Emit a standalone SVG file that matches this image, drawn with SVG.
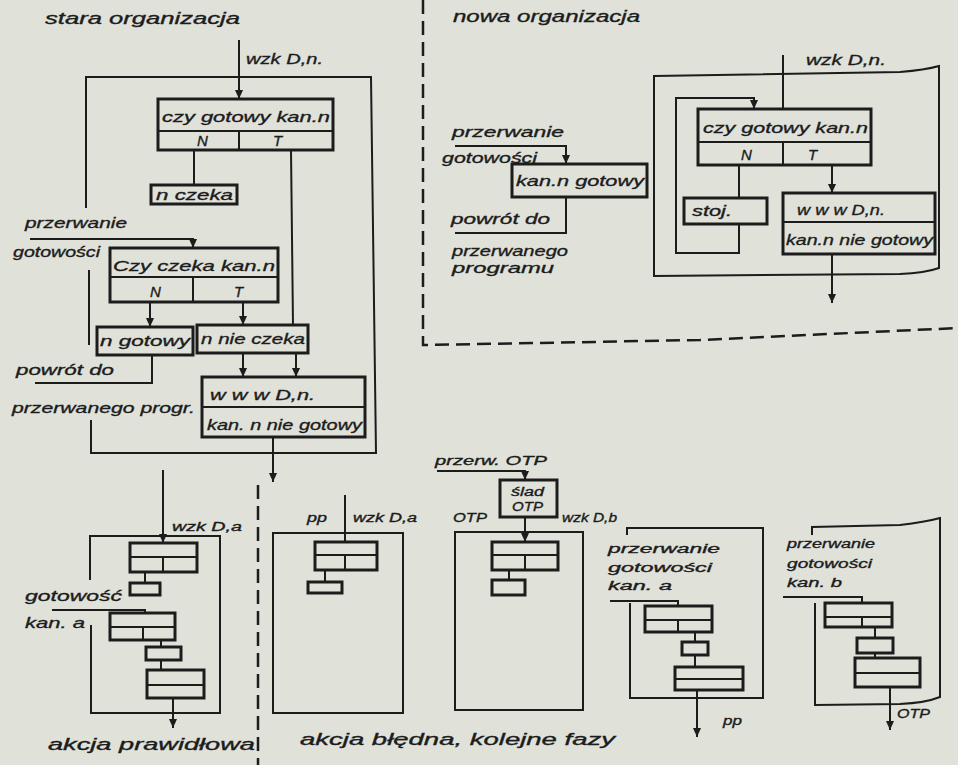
<svg xmlns="http://www.w3.org/2000/svg" width="958" height="765" viewBox="0 0 958 765">
<defs>
<style>
.bg{fill:#e0e2da}
.ln{stroke:#1c1c1c;stroke-width:2;fill:none;stroke-linejoin:miter}
.bx{stroke:#1c1c1c;stroke-width:3;fill:none}
.dv{stroke:#1c1c1c;stroke-width:2;fill:none}
.ds{stroke:#1c1c1c;stroke-width:2.5;fill:none;stroke-dasharray:14 7}
.t{font-family:"Liberation Sans",Arial,sans-serif;font-style:italic;font-size:15px;fill:#1c1c1c;stroke:#1c1c1c;stroke-width:0.35}
.h{font-size:16px}
.s{font-size:13px}
</style>
<marker id="ah" markerWidth="9" markerHeight="8" refX="9" refY="4" orient="auto" markerUnits="userSpaceOnUse">
<path d="M0,0 L9,4 L0,8 z" fill="#1c1c1c"/>
</marker>
</defs>
<rect class="bg" x="0" y="0" width="958" height="765"/>

<g id="headers">
<text class="t h" x="45" y="24" textLength="195" lengthAdjust="spacingAndGlyphs">stara organizacja</text>
<text class="t h" x="453" y="22" textLength="187" lengthAdjust="spacingAndGlyphs">nowa organizacja</text>
</g>

<g id="dividers">
<path class="ds" d="M423,0 L423,345 L700,340 L958,328"/>
<path class="ds" d="M258,485 L258,765"/>
</g>

<g id="connectors">
<!-- stara organizacja -->
<path class="ln" d="M239,40 L239,99" marker-end="url(#ah)"/>
<path class="ln" d="M86,208 L86,77 L371,77 L376,453 L91,453 L91,420"/>
<path class="ln" d="M89,270 L89,345"/>
<path class="ln" d="M194,150 L194,185"/>
<path class="ln" d="M291,150 L293,325"/>
<path class="ln" d="M30,239 L193,239 L193,248" marker-end="url(#ah)"/>
<path class="ln" d="M150,302 L150,327" marker-end="url(#ah)"/>
<path class="ln" d="M243,302 L243,325" marker-end="url(#ah)"/>
<path class="ln" d="M243,353 L243,377" marker-end="url(#ah)"/>
<path class="ln" d="M296,353 L296,377" marker-end="url(#ah)"/>
<path class="ln" d="M152,355 L152,383 L35,383"/>
<path class="ln" d="M273,437 L273,482" marker-end="url(#ah)"/>
<!-- nowa organizacja -->
<path class="ln" d="M783,55 L783,109"/>
<path class="ln" d="M654,76 L900,72 Q925,70 939,66 L939,268 Q925,273 900,274 L654,276 Z"/>
<path class="ln" d="M739,224 L739,253 L676,253 L676,98 L754,98 L754,109" marker-end="url(#ah)"/>
<path class="ln" d="M739,165 L739,198"/>
<path class="ln" d="M832,165 L832,193" marker-end="url(#ah)"/>
<path class="ln" d="M832,254 L832,303" marker-end="url(#ah)"/>
<path class="ln" d="M455,146 L566,146 L566,164" marker-end="url(#ah)"/>
<path class="ln" d="M566,197 L566,233 L455,233"/>
<!-- bottom: akcja prawidlowa -->
<path class="ln" d="M163,470 L163,543" marker-end="url(#ah)"/>
<path class="ln" d="M90,580 L90,536 L220,536 L220,713 L91,713 L91,625"/>
<path class="ln" d="M145,572 L145,583"/>
<path class="ln" d="M52,610 L145,610 L145,613"/>
<path class="ln" d="M161,640 L161,647"/>
<path class="ln" d="M161,660 L161,670"/>
<path class="ln" d="M173,698 L173,728" marker-end="url(#ah)"/>
<!-- bottom: akcja bledna 1 -->
<path class="ln" d="M345,495 L345,542"/>
<rect class="ln" x="273" y="533" width="130" height="180"/>
<path class="ln" d="M325,570 L325,582"/>
<!-- bottom: akcja bledna 2 -->
<path class="ln" d="M437,471 L525,471 L525,480" marker-end="url(#ah)"/>
<path class="ln" d="M525,517 L525,542" marker-end="url(#ah)"/>
<rect class="ln" x="455" y="532" width="128" height="178"/>
<path class="ln" d="M509,570 L509,580"/>
<!-- bottom: kan. a -->
<path class="ln" d="M627,535 L627,528 L763,528 L763,698 L630,698 L630,603"/>
<path class="ln" d="M610,601 L678,601 L678,606"/>
<path class="ln" d="M695,632 L695,642"/>
<path class="ln" d="M695,655 L695,667"/>
<path class="ln" d="M697,690 L697,737" marker-end="url(#ah)"/>
<!-- bottom: kan. b -->
<path class="ln" d="M812,535 L812,527 L900,525 Q925,522 940,518 L940,697 Q925,703 900,704 L815,705 L815,603"/>
<path class="ln" d="M783,597 L862,597 L862,603"/>
<path class="ln" d="M875,627 L875,638"/>
<path class="ln" d="M875,653 L875,658"/>
<path class="ln" d="M890,687 L890,730" marker-end="url(#ah)"/>
</g>

<!-- ===== stara organizacja nodes ===== -->
<g id="A-wzk">
<text class="t" x="246" y="64" textLength="77" lengthAdjust="spacingAndGlyphs">wzk D,n.</text>
</g>
<g id="A-czy-gotowy">
<rect class="bx" x="158" y="99" width="175" height="51"/>
<path class="dv" d="M158,131 L333,131 M239,131 L239,150"/>
<text class="t" x="162" y="122" textLength="168" lengthAdjust="spacingAndGlyphs">czy gotowy kan.n</text>
<text class="t" x="197" y="146">N</text>
<text class="t" x="273" y="146">T</text>
</g>
<g id="A-n-czeka">
<rect class="bx" x="151" y="185" width="86" height="19"/>
<text class="t" x="156" y="200" textLength="77" lengthAdjust="spacingAndGlyphs">n czeka</text>
</g>
<g id="A-przerwanie">
<text class="t" x="25" y="228" textLength="102" lengthAdjust="spacingAndGlyphs">przerwanie</text>
<text class="t" x="13" y="257" textLength="87" lengthAdjust="spacingAndGlyphs">gotowości</text>
</g>
<g id="A-czy-czeka">
<rect class="bx" x="110" y="248" width="168" height="54"/>
<path class="dv" d="M110,277 L278,277 M193,277 L193,302"/>
<text class="t" x="113" y="271" textLength="162" lengthAdjust="spacingAndGlyphs">Czy czeka kan.n</text>
<text class="t" x="150" y="297">N</text>
<text class="t" x="234" y="297">T</text>
</g>
<g id="A-n-gotowy">
<rect class="bx" x="97" y="327" width="96" height="28"/>
<text class="t" x="100" y="346" textLength="90" lengthAdjust="spacingAndGlyphs">n gotowy</text>
</g>
<g id="A-n-nie-czeka">
<rect class="bx" x="197" y="325" width="111" height="28"/>
<text class="t" x="201" y="344" textLength="104" lengthAdjust="spacingAndGlyphs">n nie czeka</text>
</g>
<g id="A-powrot">
<text class="t" x="16" y="375" textLength="98" lengthAdjust="spacingAndGlyphs">powrót do</text>
<text class="t" x="12" y="413" textLength="183" lengthAdjust="spacingAndGlyphs">przerwanego progr.</text>
</g>
<g id="A-www">
<rect class="bx" x="202" y="377" width="163" height="60"/>
<path class="dv" d="M202,407 L365,407"/>
<text class="t" x="210" y="400" textLength="105" lengthAdjust="spacingAndGlyphs">w w w D,n.</text>
<text class="t" x="207" y="430" textLength="155" lengthAdjust="spacingAndGlyphs">kan. n nie gotowy</text>
</g>

<!-- ===== nowa organizacja nodes ===== -->
<g id="B-wzk">
<text class="t" x="806" y="65" textLength="80" lengthAdjust="spacingAndGlyphs">wzk D,n.</text>
</g>
<g id="B-czy-gotowy">
<rect class="bx" x="698" y="109" width="173" height="56"/>
<path class="dv" d="M698,142 L871,142 M783,142 L783,165"/>
<text class="t" x="703" y="133" textLength="165" lengthAdjust="spacingAndGlyphs">czy gotowy kan.n</text>
<text class="t" x="741" y="160">N</text>
<text class="t" x="808" y="160">T</text>
</g>
<g id="B-stoj">
<rect class="bx" x="684" y="198" width="83" height="26"/>
<text class="t" x="692" y="216" textLength="40" lengthAdjust="spacingAndGlyphs">stoj.</text>
</g>
<g id="B-www">
<rect class="bx" x="783" y="193" width="152" height="61"/>
<path class="dv" d="M783,222 L935,222"/>
<text class="t" x="797" y="215" textLength="88" lengthAdjust="spacingAndGlyphs">w w w D,n.</text>
<text class="t" x="786" y="245" textLength="147" lengthAdjust="spacingAndGlyphs">kan.n nie gotowy</text>
</g>
<g id="B-przerwanie">
<text class="t" x="452" y="137" textLength="112" lengthAdjust="spacingAndGlyphs">przerwanie</text>
<text class="t" x="442" y="163" textLength="95" lengthAdjust="spacingAndGlyphs">gotowości</text>
</g>
<g id="B-kan-gotowy">
<rect class="bx" x="512" y="164" width="135" height="33"/>
<text class="t" x="516" y="186" textLength="128" lengthAdjust="spacingAndGlyphs">kan.n gotowy</text>
</g>
<g id="B-powrot">
<text class="t" x="451" y="224" textLength="99" lengthAdjust="spacingAndGlyphs">powrót do</text>
<text class="t" x="452" y="256" textLength="116" lengthAdjust="spacingAndGlyphs">przerwanego</text>
<text class="t" x="452" y="273" textLength="102" lengthAdjust="spacingAndGlyphs">programu</text>
</g>

<!-- ===== bottom: akcja prawidlowa ===== -->
<g id="C1">
<text class="t s" x="172" y="531" textLength="70" lengthAdjust="spacingAndGlyphs">wzk D,a</text>
<rect class="bx" x="130" y="543" width="67" height="29"/>
<path class="dv" d="M130,557 L197,557 M163,557 L163,572"/>
<rect class="bx" x="130" y="583" width="30" height="12"/>
<text class="t" x="25" y="601" textLength="97" lengthAdjust="spacingAndGlyphs">gotowość</text>
<text class="t" x="25" y="628" textLength="60" lengthAdjust="spacingAndGlyphs">kan. a</text>
<rect class="bx" x="110" y="613" width="65" height="27"/>
<path class="dv" d="M110,627 L175,627 M143,627 L143,640"/>
<rect class="bx" x="146" y="647" width="35" height="13"/>
<rect class="bx" x="147" y="670" width="57" height="28"/>
<path class="dv" d="M147,685 L204,685"/>
<text class="t h" x="48" y="750" textLength="207" lengthAdjust="spacingAndGlyphs">akcja prawidłowa</text>
</g>

<!-- ===== bottom: akcja bledna ===== -->
<g id="C2">
<text class="t s" x="307" y="522" textLength="20" lengthAdjust="spacingAndGlyphs">pp</text>
<text class="t s" x="353" y="522" textLength="64" lengthAdjust="spacingAndGlyphs">wzk D,a</text>
<rect class="bx" x="315" y="542" width="62" height="28"/>
<path class="dv" d="M315,555 L377,555 M345,555 L345,570"/>
<rect class="bx" x="308" y="582" width="34" height="11"/>
</g>
<g id="C3">
<text class="t s" x="435" y="465" textLength="112" lengthAdjust="spacingAndGlyphs">przerw. OTP</text>
<rect class="bx" x="500" y="480" width="57" height="37"/>
<text class="t s" x="511" y="496" textLength="33" lengthAdjust="spacingAndGlyphs">ślad</text>
<text class="t s" x="512" y="511" textLength="31" lengthAdjust="spacingAndGlyphs">OTP</text>
<text class="t s" x="453" y="522" textLength="34" lengthAdjust="spacingAndGlyphs">OTP</text>
<text class="t s" x="562" y="522" textLength="55" lengthAdjust="spacingAndGlyphs">wzk D,b</text>
<rect class="bx" x="492" y="542" width="66" height="28"/>
<path class="dv" d="M492,555 L558,555 M525,555 L525,570"/>
<rect class="bx" x="492" y="580" width="33" height="15"/>
</g>
<g id="C4">
<text class="t s" x="608" y="553" textLength="112" lengthAdjust="spacingAndGlyphs">przerwanie</text>
<text class="t s" x="608" y="572" textLength="104" lengthAdjust="spacingAndGlyphs">gotowości</text>
<text class="t s" x="608" y="590" textLength="64" lengthAdjust="spacingAndGlyphs">kan. a</text>
<rect class="bx" x="645" y="606" width="67" height="26"/>
<path class="dv" d="M645,620 L712,620 M678,620 L678,632"/>
<rect class="bx" x="682" y="642" width="26" height="13"/>
<rect class="bx" x="675" y="667" width="68" height="23"/>
<path class="dv" d="M675,679 L743,679"/>
<text class="t s" x="723" y="725" textLength="19" lengthAdjust="spacingAndGlyphs">pp</text>
</g>
<g id="C5">
<text class="t s" x="787" y="548" textLength="88" lengthAdjust="spacingAndGlyphs">przerwanie</text>
<text class="t s" x="787" y="568" textLength="85" lengthAdjust="spacingAndGlyphs">gotowości</text>
<text class="t s" x="787" y="587" textLength="55" lengthAdjust="spacingAndGlyphs">kan. b</text>
<rect class="bx" x="825" y="603" width="67" height="24"/>
<path class="dv" d="M825,617 L892,617 M862,617 L862,627"/>
<rect class="bx" x="857" y="638" width="36" height="15"/>
<rect class="bx" x="855" y="658" width="65" height="29"/>
<path class="dv" d="M855,673 L920,673"/>
<text class="t s" x="897" y="718" textLength="33" lengthAdjust="spacingAndGlyphs">OTP</text>
</g>
<g id="footer">
<text class="t h" x="300" y="745" textLength="315" lengthAdjust="spacingAndGlyphs">akcja błędna, kolejne fazy</text>
</g>
</svg>
